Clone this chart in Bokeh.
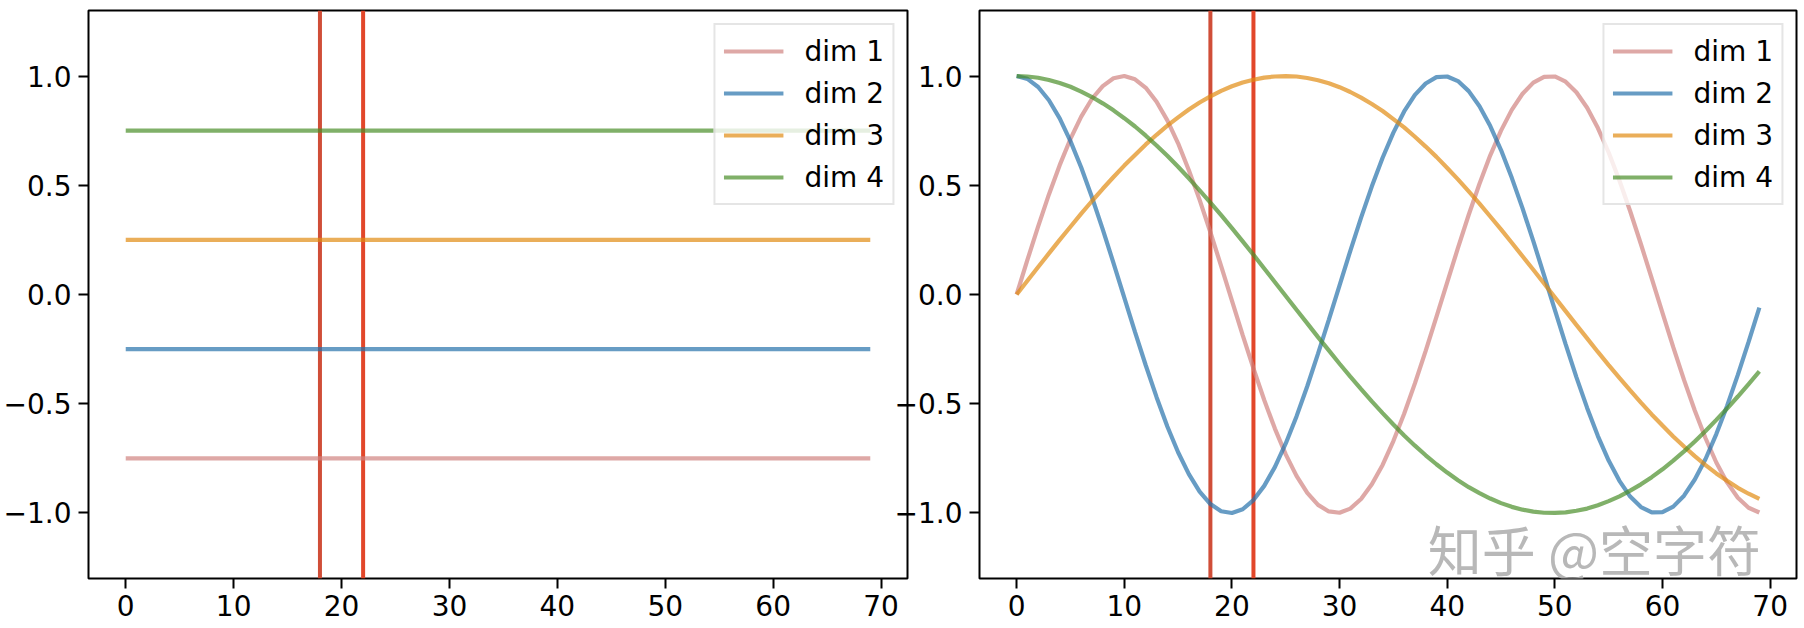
from bokeh.plotting import figure
from bokeh.layouts import row
from bokeh.models import Range1d, FixedTicker, Span, Legend, LegendItem, Label, CustomJSTickFormatter
from bokeh.embed import file_html
from bokeh.resources import INLINE

# ---------------- data ----------------
x = list(range(70))
series_names = ["dim 1", "dim 2", "dim 3", "dim 4"]

# left panel: constant level per dim
left_levels = [-0.75, -0.25, 0.25, 0.75]

# right panel: values
dim1 = [0.000, 0.158, 0.312, 0.458, 0.592, 0.712, 0.814, 0.896, 0.954, 0.990,
        1.000, 0.985, 0.946, 0.882, 0.797, 0.692, 0.569, 0.433, 0.285, 0.130,
        -0.028, -0.186, -0.338, -0.483, -0.615, -0.732, -0.830, -0.908, -0.963, -0.993,
        -0.999, -0.980, -0.936, -0.869, -0.780, -0.671, -0.546, -0.407, -0.258, -0.102,
        0.056, 0.213, 0.365, 0.507, 0.637, 0.750, 0.845, 0.919, 0.970, 0.996,
        0.998, 0.974, 0.926, 0.855, 0.762, 0.650, 0.522, 0.381, 0.230, 0.074,
        -0.084, -0.241, -0.391, -0.531, -0.658, -0.769, -0.860, -0.930, -0.976, -0.998]
dim2 = [1.000, 0.987, 0.950, 0.889, 0.806, 0.702, 0.581, 0.445, 0.298, 0.144,
        -0.014, -0.172, -0.325, -0.470, -0.604, -0.722, -0.822, -0.902, -0.959, -0.992,
        -1.000, -0.983, -0.941, -0.876, -0.789, -0.682, -0.558, -0.420, -0.271, -0.116,
        0.042, 0.200, 0.352, 0.495, 0.626, 0.741, 0.838, 0.914, 0.966, 0.995,
        0.998, 0.977, 0.931, 0.862, 0.771, 0.661, 0.534, 0.394, 0.244, 0.088,
        -0.070, -0.227, -0.378, -0.519, -0.648, -0.760, -0.853, -0.925, -0.973, -0.997,
        -0.996, -0.971, -0.921, -0.847, -0.753, -0.639, -0.510, -0.368, -0.217, -0.060]
dim3 = [0.000, 0.063, 0.126, 0.188, 0.250, 0.310, 0.370, 0.428, 0.484, 0.538,
        0.590, 0.639, 0.687, 0.731, 0.773, 0.811, 0.847, 0.879, 0.907, 0.932,
        0.953, 0.970, 0.983, 0.993, 0.998, 1.000, 0.998, 0.991, 0.981, 0.967,
        0.949, 0.927, 0.901, 0.872, 0.840, 0.803, 0.765, 0.722, 0.677, 0.630,
        0.579, 0.527, 0.472, 0.416, 0.357, 0.298, 0.237, 0.175, 0.113, 0.050,
        -0.013, -0.076, -0.139, -0.201, -0.263, -0.323, -0.382, -0.439, -0.495, -0.549,
        -0.600, -0.650, -0.696, -0.740, -0.781, -0.819, -0.853, -0.885, -0.912, -0.936]
dim4 = [1.000, 0.998, 0.992, 0.982, 0.968, 0.951, 0.929, 0.904, 0.875, 0.843,
        0.807, 0.769, 0.727, 0.682, 0.635, 0.585, 0.532, 0.477, 0.421, 0.363,
        0.304, 0.243, 0.182, 0.119, 0.056, -0.007, -0.070, -0.132, -0.195, -0.256,
        -0.317, -0.376, -0.433, -0.489, -0.543, -0.595, -0.645, -0.692, -0.736, -0.777,
        -0.815, -0.850, -0.882, -0.909, -0.934, -0.955, -0.972, -0.985, -0.994, -0.999,
        -1.000, -0.997, -0.990, -0.980, -0.965, -0.946, -0.924, -0.898, -0.869, -0.836,
        -0.800, -0.760, -0.718, -0.673, -0.625, -0.574, -0.522, -0.467, -0.410, -0.352]

vline_positions = [18, 22]
xticks = [0, 10, 20, 30, 40, 50, 60, 70]
yticks = [-1.0, -0.5, 0.0, 0.5, 1.0]
watermark = "知乎 @空字符"

# ---------------- style ----------------
colors = ["#d08380", "#2772ab", "#e18b13", "#4a8e2a"]
vline_colors = ["#d04e38", "#e2472a"]
FONT = "DejaVu Sans"
FS = "28px"
H = 626


def make_fig(width, border_left):
    p = figure(width=width, height=H,
               x_range=Range1d(-3.45, 72.45), y_range=Range1d(-1.3, 1.3),
               output_backend="svg", toolbar_location=None,
               min_border_left=border_left, min_border_right=2,
               min_border_top=10, min_border_bottom=48)
    p.grid.visible = False
    p.outline_line_color = "black"
    p.outline_line_width = 2
    p.outline_line_alpha = 1
    for ax in p.axis:
        ax.axis_line_color = None
        ax.major_tick_out = 10
        ax.major_tick_in = 0
        ax.major_tick_line_width = 2
        ax.minor_tick_line_color = None
        ax.major_label_text_font = FONT
        ax.major_label_text_font_size = FS
        ax.major_label_text_color = "black"
    p.xaxis.ticker = FixedTicker(ticks=xticks)
    p.xaxis.major_label_standoff = 6
    p.yaxis.ticker = FixedTicker(ticks=yticks)
    p.yaxis.major_label_standoff = 7
    p.yaxis.formatter = CustomJSTickFormatter(
        code="return (tick < 0 ? '\u2212' : '') + Math.abs(tick).toFixed(1);")
    for v, c in zip(vline_positions, vline_colors):
        p.add_layout(Span(location=v, dimension="height", line_color=c,
                          line_width=4, level="underlay"))
    return p


def add_legend(p, renderers):
    items = [LegendItem(label=n, renderers=[r]) for n, r in zip(series_names, renderers)]
    leg = Legend(items=items, location="top_right", margin=13, padding=8,
                 spacing=6, label_height=36, glyph_height=36, glyph_width=60,
                 label_standoff=21, label_text_font=FONT, label_text_font_size=FS,
                 label_text_color="black",
                 border_line_color="#cccccc", border_line_width=2,
                 background_fill_color="white", background_fill_alpha=0.8)
    p.add_layout(leg)


# left panel
p1 = make_fig(909, 87)
rs = []
for lvl, c in zip(left_levels, colors):
    rs.append(p1.line(x, [lvl] * len(x), line_color=c, line_width=4.2, line_alpha=0.7))
add_legend(p1, rs)

# right panel
p2 = make_fig(907, 86)
p2.border_fill_alpha = 0
p2.margin = (0, 0, 0, -18)
rs = []
for ys, c in zip([dim1, dim2, dim3, dim4], colors):
    rs.append(p2.line(x, ys, line_color=c, line_width=4.2, line_alpha=0.7))
add_legend(p2, rs)

p2.add_layout(Label(x=38.2, y=-1.345, text=watermark, text_font="Noto Sans CJK SC",
                    text_font_size="54px", text_color="#b0b0b0", text_alpha=0.9,
                    text_baseline="bottom"))

layout = row(p1, p2)
open("out.html", "w").write(file_html(layout, INLINE))
